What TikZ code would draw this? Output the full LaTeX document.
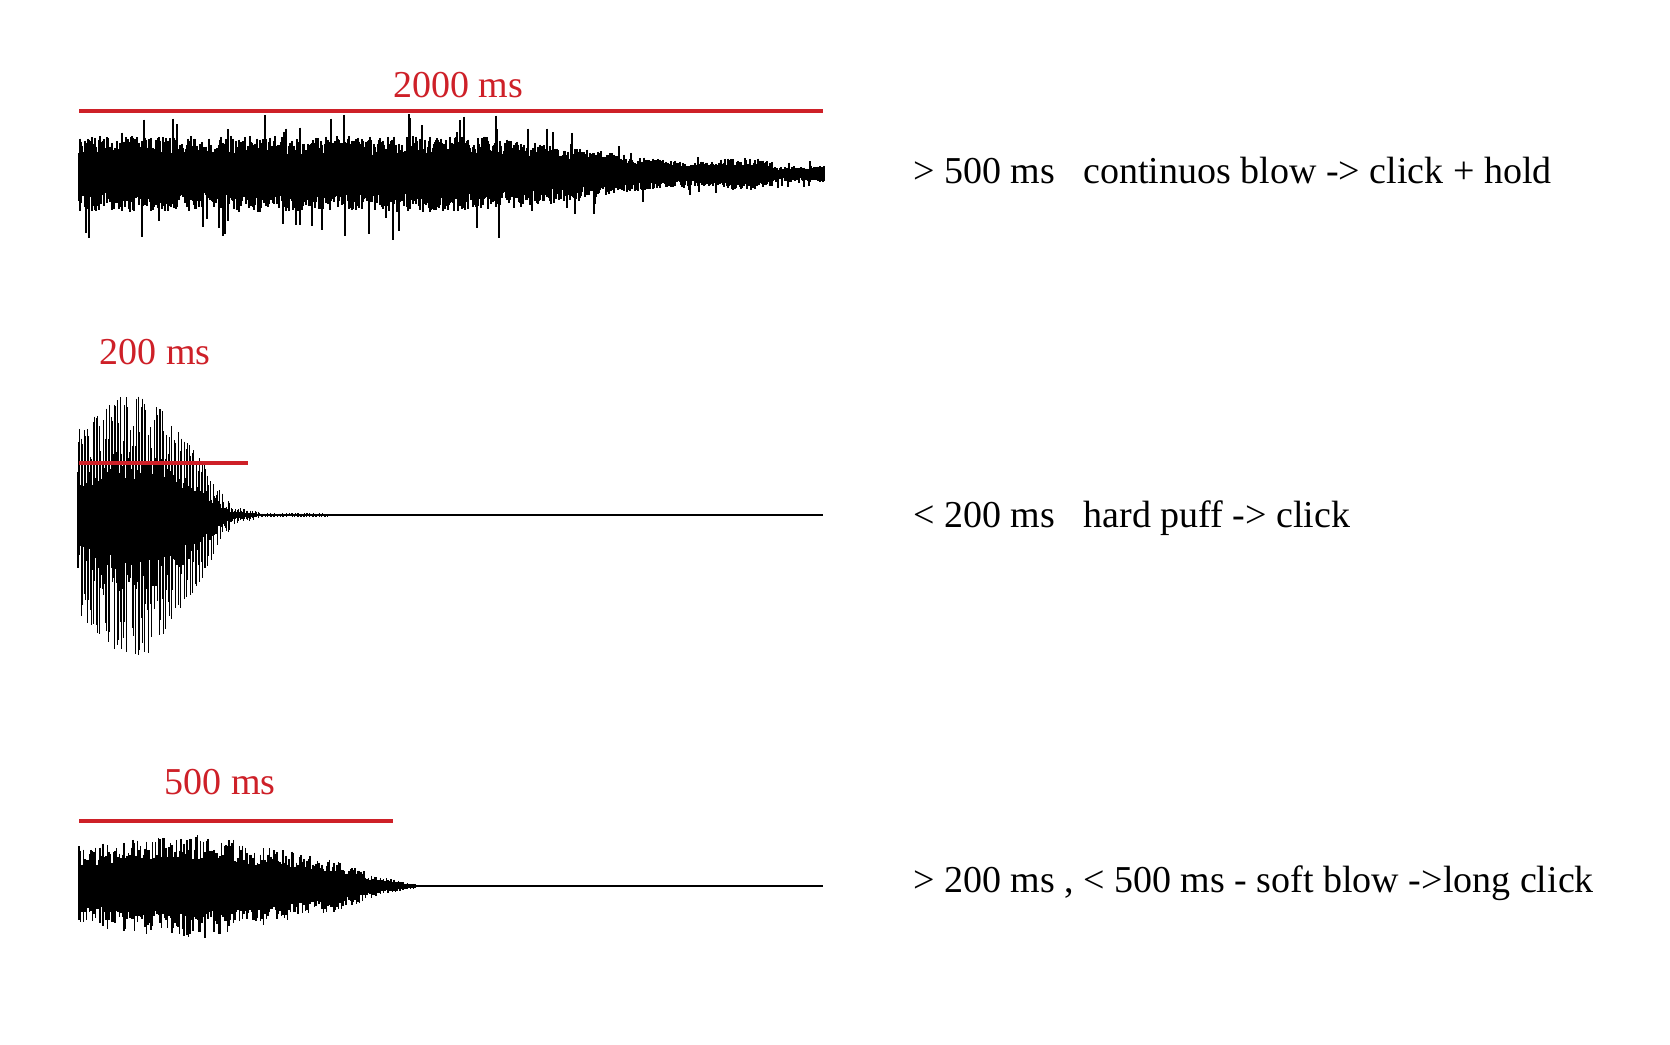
\documentclass[tikz,border=0pt]{standalone}
\usepackage{fontspec}
\setmainfont{Liberation Serif}
\definecolor{mred}{RGB}{206,32,40}
\begin{document}
\begin{tikzpicture}[x=1pt,y=-1pt,
  lbl/.style={font=\fontsize{38}{44}\selectfont, inner sep=0pt, text=black},
  rlbl/.style={font=\fontsize{38}{44}\selectfont, inner sep=0pt, text=mred},
  redbar/.style={draw=mred, line width=3.6pt},
  wave/.style={draw=black, line width=1.1pt},
  thinwave/.style={draw=black, line width=0.9pt},
  baseline/.style={draw=black, line width=1.4pt}]
\useasboundingbox[fill=white] (0,0) rectangle (1670,1044);
\pgfmathsetseed{7}
% ---- top waveform: continuous blow ----
\foreach \i in {0,...,745}{
  \pgfmathsetmacro\wt{\i/746}
  \pgfmathsetmacro\we{\wt<0.55 ? 36 : (\wt<0.8 ? 36-(\wt-0.55)*96 : ((\wt>0.86 && \wt<0.92) ? 15 : (\wt<0.93 ? 12 : 8)))}
  \pgfmathsetmacro\wu{\we*(rnd>0.92 ? 1.6 : 1)*(0.5+0.55*rnd)}
  \pgfmathsetmacro\wd{\we*(rnd>0.92 ? 1.75 : 1)*(0.5+0.55*rnd)}
  \draw[wave] (79+\i,174-\wu) -- (79+\i,174+\wd);
}
% ---- middle waveform: hard puff ----
\draw[baseline] (78,515) -- (823,515);
\foreach \i in {0,...,166}{
  \pgfmathsetmacro\wx{78+1.5*\i}
  \pgfmathsetmacro\we{\wx<120 ? 100+(\wx-78)*0.95 : (\wx<150 ? 140 : (\wx<203 ? 140-(\wx-150)*1.47 : (\wx<220 ? 62-(\wx-203)*2 : (\wx<233 ? 28-(\wx-220)*1.4 : (\wx<260 ? 10-(\wx-233)*0.26 : 2)))))}
  \pgfmathsetmacro\ra{rnd}
  \pgfmathsetmacro\rb{rnd}
  \pgfmathsetmacro\wu{0.85*\we*(0.3+0.7*(1-\ra*\ra))}
  \pgfmathsetmacro\wd{\we*(0.3+0.7*(1-\rb*\rb))}
  \draw[thinwave] (\wx,515-\wu) -- (\wx,515+\wd);
  \pgfmathsetmacro\cu{0.85*\we*(0.3+0.25*rnd)}
  \pgfmathsetmacro\cd{\we*(0.3+0.25*rnd)}
  \draw[wave] (\wx,515-\cu) -- (\wx,515+\cd);
}
% ---- bottom waveform: soft blow ----
\draw[baseline] (79,886) -- (823,886);
\foreach \i in {0,...,224}{
  \pgfmathsetmacro\wx{79+1.5*\i}
  \pgfmathsetmacro\we{\wx<193 ? 40+(\wx-79)*0.12 : (\wx<337 ? 54-(\wx-193)*0.194 : (\wx<377 ? 26-(\wx-337)*0.4 : 10-(\wx-377)*0.2))}
  \pgfmathsetmacro\wu{\we*(0.5+0.5*rnd)}
  \pgfmathsetmacro\wd{\we*(0.5+0.5*rnd)}
  \draw[wave] (\wx,886-\wu) -- (\wx,886+\wd);
}
% ---- red duration bars ----
\coordinate (r1a) at (79,111);  \coordinate (r1b) at (823,111);
\coordinate (r2a) at (79,463);  \coordinate (r2b) at (248,463);
\coordinate (r3a) at (79,821);  \coordinate (r3b) at (393,821);
\draw[redbar] (r1a) -- (r1b);
\draw[redbar] (r2a) -- (r2b);
\draw[redbar] (r3a) -- (r3b);
% ---- red labels ----
\node[rlbl, anchor=base] (l1) at (458,97) {2000 ms};
\node[rlbl, anchor=base] (l2) at (155,364) {200 ms};
\node[rlbl, anchor=base] (l3) at (220,794) {500 ms};
% ---- descriptions ----
\node[lbl, anchor=base west] (t1) at (913,183) {> 500 ms\hspace{0.75em}continuos blow -> click + hold};
\node[lbl, anchor=base west] (t2) at (913,527) {< 200 ms\hspace{0.75em}hard puff -> click};
\node[lbl, anchor=base west] (t3) at (913,892) {> 200 ms , < 500 ms - soft blow ->long click};
\end{tikzpicture}
\end{document}
